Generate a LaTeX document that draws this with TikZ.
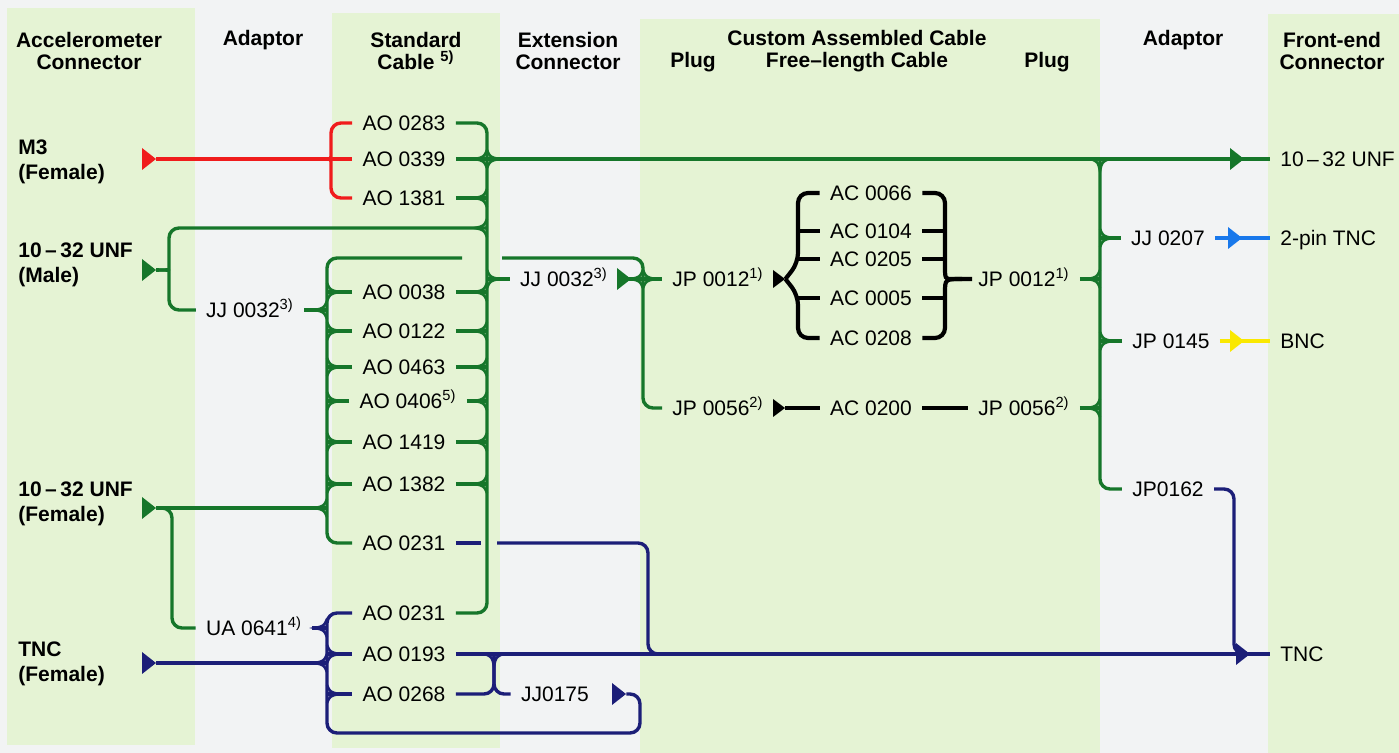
\documentclass[tikz,border=0pt]{standalone}
\usepackage{fontspec}
\setmainfont{Liberation Sans}
\definecolor{bggrey}{RGB}{242,243,244}
\definecolor{colgreen}{RGB}{229,243,212}
\definecolor{wgreen}{RGB}{22,118,42}
\definecolor{wred}{RGB}{240,28,28}
\definecolor{wnavy}{RGB}{28,30,120}
\definecolor{wblue}{RGB}{25,120,235}
\definecolor{wyellow}{RGB}{250,232,0}
\tikzset{wire/.style = {line width = 1.7pt, rounded corners = 5pt}}
\tikzset{bwire/.style = {line width = 2.1pt, rounded corners = 5pt, black}}
\tikzset{lbl/.style = {inner xsep = 5pt, inner ysep = 0pt, text height = 7.6pt, text depth = 0pt,
                       font = \fontsize{10.5}{12}\selectfont}}
\tikzset{head/.style = {align = center, inner sep = 0pt, font = \bfseries\fontsize{10.5}{11}\selectfont}}
\tikzset{conn/.style = {align = left, anchor = west, inner sep = 0pt, font = \bfseries\fontsize{10.5}{12.5}\selectfont}}
\tikzset{plug/.style = {inner sep = 0pt, minimum width = 7pt, minimum height = 11pt,
                        path picture = {\fill (path picture bounding box.south west)
                                          -- (path picture bounding box.east)
                                          -- (path picture bounding box.north west) -- cycle;}}}
\tikzset{small plug/.style = {plug, minimum width = 6pt, minimum height = 9pt}}
\tikzset{fork/.pic = {\draw [line width = 1.3pt] (0, -9) .. controls (-3, -2) .. (-12, 0)
                                                 .. controls (-3, 2) .. (0, 9);}}

\begin{document}
\begin{tikzpicture}[x = 0.5pt, y = -0.5pt]
      \useasboundingbox (0, 0) rectangle (1399, 753);
      % columns
      \fill [bggrey] (0, 0) rectangle (1399, 753);
      \fill [colgreen] (7, 8) rectangle (195, 745);
      \fill [colgreen] (332, 13) rectangle (500, 748);
      \fill [colgreen] (640, 19) rectangle (1100, 753);
      \fill [colgreen] (1268, 14) rectangle (1399, 753);

      % headers
      \node [head] (hacc) at (89, 51) {Accelerometer\\Connector};
      \node [head] (hada) at (263, 40) {Adaptor};
      \node [head] (hstd) at (416, 51) {Standard\\Cable \textsuperscript{5)}};
      \node [head] (hext) at (568, 51) {Extension\\Connector};
      \node [head] (hplugl) at (693, 62) {Plug};
      \node [head] (hcust) at (857, 51) {Custom Assembled Cable\\Free–length Cable};
      \node [head] (hplugr) at (1047, 62) {Plug};
      \node [head] (hadar) at (1183, 40) {Adaptor};
      \node [head] (hfe) at (1332, 51) {Front-end\\Connector};

      % accelerometer connectors
      \node [conn] (cm3) at (18, 162) {M3\\(Female)};
      \node [conn] (cmale) at (18, 265) {10\,–\,32 UNF\\(Male)};
      \node [conn] (cfem) at (18, 504) {10\,–\,32 UNF\\(Female)};
      \node [conn] (ctnc) at (18, 664) {TNC\\(Female)};
      \node [plug, wred] (pm3) at (149, 159) {};
      \node [plug, wgreen] (pmale) at (149, 270) {};
      \node [plug, wgreen] (pfem) at (149, 508) {};
      \node [plug, wnavy] (ptnc) at (149, 663) {};

      % adaptors
      \node [lbl] (jj32a) at (250, 310) {JJ 0032\textsuperscript{3)}};
      \node [lbl] (ua0641) at (254, 628) {UA 0641\textsuperscript{4)}};

      % standard cables
      \node [lbl] (ao0283) at (404, 123) {AO 0283};
      \node [lbl] (ao0339) at (404, 159) {AO 0339};
      \node [lbl] (ao1381) at (404, 198) {AO 1381};
      \node [lbl] (ao0038) at (404, 292) {AO 0038};
      \node [lbl] (ao0122) at (404, 331) {AO 0122};
      \node [lbl] (ao0463) at (404, 367) {AO 0463};
      \node [lbl] (ao0406) at (408, 401) {AO 0406\textsuperscript{5)}};
      \node [lbl] (ao1419) at (404, 442) {AO 1419};
      \node [lbl] (ao1382) at (404, 484) {AO 1382};
      \node [lbl] (ao0231a) at (404, 543) {AO 0231};
      \node [lbl] (ao0231b) at (404, 613) {AO 0231};
      \node [lbl] (ao0193) at (404, 654) {AO 0193};
      \node [lbl] (ao0268) at (404, 694) {AO 0268};

      % extension connectors
      \node [lbl] (jjext) at (564, 279) {JJ 0032\textsuperscript{3)}};
      \node [plug, wgreen] (pext) at (624, 279) {};
      \node [lbl] (jj0175) at (555, 694) {JJ0175};
      \node [plug, wnavy] (pjj0175) at (619, 694) {};

      % custom assembled cable
      \node [lbl] (jp12l) at (718, 279) {JP 0012\textsuperscript{1)}};
      \node [lbl] (jp56l) at (718, 408) {JP 0056\textsuperscript{2)}};
      \node [small plug, black] (pjp12) at (779, 279) {};
      \node [small plug, black] (pjp56) at (779, 408) {};
      \node [lbl] (ac0066) at (871, 193) {AC 0066};
      \node [lbl] (ac0104) at (871, 231) {AC 0104};
      \node [lbl] (ac0205) at (871, 259) {AC 0205};
      \node [lbl] (ac0005) at (871, 298) {AC 0005};
      \node [lbl] (ac0208) at (871, 338) {AC 0208};
      \node [lbl] (ac0200) at (871, 408) {AC 0200};
      \node [lbl] (jp12r) at (1024, 279) {JP 0012\textsuperscript{1)}};
      \node [lbl] (jp56r) at (1024, 408) {JP 0056\textsuperscript{2)}};

      % adaptors and front-end connectors
      \node [lbl] (jj0207) at (1168, 238) {JJ 0207};
      \node [lbl] (jp0145) at (1171, 341) {JP 0145};
      \node [lbl] (jp0162) at (1168, 489) {JP0162};
      \node [lbl, anchor = west] (fe1) at (1270, 159) {10\,–\,32 UNF};
      \node [lbl, anchor = west] (fe2) at (1270, 238) {2-pin TNC};
      \node [lbl, anchor = west] (fe3) at (1270, 341) {BNC};
      \node [lbl, anchor = west] (fe4) at (1270, 654) {TNC};
      \node [plug, wgreen] (pfe1) at (1237, 159) {};
      \node [plug, wblue] (pfe2) at (1235, 238) {};
      \node [plug, wyellow] (pfe3) at (1237, 341) {};
      \node [plug, wnavy] (pfe4) at (1243, 654) {};

      \coordinate (rbus) at (487, 0);
      \coordinate (lbus) at (327, 0);
      \coordinate (nbus) at (327, 0);
      \coordinate (extv) at (643, 0);
      \coordinate (abus) at (1100, 0);
      \coordinate (bl) at (798, 0);
      \coordinate (br) at (945, 0);
      \coordinate (ibar) at (494, 0);
      \coordinate (ndrop) at (648, 0);
      \coordinate (nright) at (1234, 0);
      \coordinate (jumpL) at (462, 258);
      \coordinate (jumpR) at (502, 258);
      \coordinate (njumpL) at (481, 0);
      \coordinate (njumpR) at (497, 0);
      \coordinate (nbot) at (327, 733);

      % red
      \draw [wire, wred] (pm3.east) -- (ao0339.west);
      \draw [wire, wred] (ao0283.west) -| (331, 147) .. controls (331, 159) .. (320, 159);
      \draw [wire, wred] (ao1381.west) -| (331, 171) .. controls (331, 159) .. (320, 159);

      % green
      \draw [wire, wgreen] (ao0283.east) -| (rbus |- ao0231b.east) -- (ao0231b.east);
      \draw [wire, wgreen] (ao0339.east) -- (fe1.west);
      \draw [wire, wgreen] (ao1381.east) -- (ao1381.east -| rbus);
      \draw [wire, wgreen] (ao0038.east) -- (ao0038.east -| rbus);
      \draw [wire, wgreen] (ao0122.east) -- (ao0122.east -| rbus);
      \draw [wire, wgreen] (ao0463.east) -- (ao0463.east -| rbus);
      \draw [wire, wgreen] (ao0406.east) -- (ao0406.east -| rbus);
      \draw [wire, wgreen] (ao1419.east) -- (ao1419.east -| rbus);
      \draw [wire, wgreen] (ao1382.east) -- (ao1382.east -| rbus);
      \draw [wire, wgreen] (pmale.east) -- (159, 270);
      \draw [wire, wgreen] (159, 270) .. controls (169, 270) .. (169, 259) |- (487, 228);
      \draw [wire, wgreen] (159, 270) .. controls (169, 270) .. (169, 281) |- (jj32a.west);
      \draw [wire, wgreen] (jj32a.east) -- (jj32a.east -| lbus);
      \draw [wire, wgreen] (jumpL) -| (lbus |- ao0231a.west) -- (ao0231a.west);
      \draw [wire, wgreen] (ao0038.west) -- (ao0038.west -| lbus);
      \draw [wire, wgreen] (ao0122.west) -- (ao0122.west -| lbus);
      \draw [wire, wgreen] (ao0463.west) -- (ao0463.west -| lbus);
      \draw [wire, wgreen] (ao0406.west) -- (ao0406.west -| lbus);
      \draw [wire, wgreen] (ao1419.west) -- (ao1419.west -| lbus);
      \draw [wire, wgreen] (ao1382.west) -- (ao1382.west -| lbus);
      \draw [wire, wgreen] (pfem.east) -- (pfem.east -| lbus);
      \draw [wire, wgreen] (pfem.east) -| (172, 628) -- (ua0641.west);
      \draw [wire, wgreen] (jjext.west) -- (jjext.west -| rbus);
      \draw [wire, wgreen] (jjext.east) -- (jp12l.west);
      \draw [wire, wgreen] (jumpR) -| (extv |- jp56l.west) -- (jp56l.west);
      \draw [wire, wgreen] (abus |- ao0339.east) |- (jp0162.west);
      \draw [wire, wgreen] (jj0207.west) -- (jj0207.west -| abus);
      \draw [wire, wgreen] (jp0145.west) -- (jp0145.west -| abus);
      \draw [wire, wgreen] (jp12r.east) -- (jp12r.east -| abus);
      \draw [wire, wgreen] (jp56r.east) -- (jp56r.east -| abus);

      % black
      \draw [bwire] (ac0066.west) -| (798, 263) -- (pjp12.east);
      \draw [bwire] (ac0208.west) -| (798, 295) -- (pjp12.east);
      \draw [bwire] (ac0104.west) -- (ac0104.west -| bl);
      \draw [bwire] (ac0205.west) -- (ac0205.west -| bl);
      \draw [bwire] (ac0005.west) -- (ac0005.west -| bl);
      \draw [bwire] (ac0066.east) -| (945, 255) .. controls (945, 279) .. (962, 279) -- (jp12r.west);
      \draw [bwire] (ac0208.east) -| (945, 303) .. controls (945, 279) .. (962, 279);
      \draw [bwire] (ac0104.east) -- (ac0104.east -| br);
      \draw [bwire] (ac0205.east) -- (ac0205.east -| br);
      \draw [bwire] (ac0005.east) -- (ac0005.east -| br);
      \draw [bwire] (pjp56.east) -- (ac0200.west);
      \draw [bwire] (ac0200.east) -- (jp56r.west);

      % blue, yellow
      \draw [wire, wblue] (jj0207.east) -- (fe2.west);
      \draw [wire, wyellow] (jp0145.east) -- (fe3.west);

      % navy
      \draw [wire, wnavy] (ao0231b.west) -| (nbot) -| (640, 694) -- (pjj0175.east);
      \draw [wire, wnavy] (ua0641.east) -- (ua0641.east -| nbus);
      \draw [wire, wnavy] (ptnc.east) -- (ptnc.east -| nbus);
      \draw [wire, wnavy] (ao0193.west) -- (ao0193.west -| nbus);
      \draw [wire, wnavy] (ao0268.west) -- (ao0268.west -| nbus);
      \draw [wire, wnavy] (ao0193.east) -- (fe4.west);
      \draw [wire, wnavy] (ao0231a.east) -- (ao0231a.east -| njumpL);
      \draw [wire, wnavy] (ao0231a.east -| njumpR) -| (ndrop |- ao0193.east) -- +(20, 0);
      \draw [wire, wnavy] (jp0162.east) -| (nright |- fe4.west) -- +(10, 0);
      \draw [wire, wnavy] (ao0268.east) -| (ibar |- ao0193.east);
      \draw [wire, wnavy] (jj0175.west) -| (ibar |- ao0193.east);

      % forks
      \pic [color = wgreen] at (ao0339.east -| rbus) {fork};
      \pic [color = wgreen, rotate = 180] at (ao0339.east -| rbus) {fork};
      \pic [color = wgreen] at (ao1381.east -| rbus) {fork};
      \pic [color = wgreen] at (487, 228) {fork};
      \pic [color = wgreen, rotate = 180] at (jjext.west -| rbus) {fork};
      \pic [color = wgreen] at (ao0038.east -| rbus) {fork};
      \pic [color = wgreen] at (ao0122.east -| rbus) {fork};
      \pic [color = wgreen] at (ao0463.east -| rbus) {fork};
      \pic [color = wgreen] at (ao0406.east -| rbus) {fork};
      \pic [color = wgreen] at (ao1419.east -| rbus) {fork};
      \pic [color = wgreen] at (ao1382.east -| rbus) {fork};
      \pic [color = wgreen] at (jj32a.east -| lbus) {fork};
      \pic [color = wgreen] at (pfem.east -| lbus) {fork};
      \pic [color = wgreen, rotate = 180] at (ao0038.west -| lbus) {fork};
      \pic [color = wgreen, rotate = 180] at (ao0122.west -| lbus) {fork};
      \pic [color = wgreen, rotate = 180] at (ao0463.west -| lbus) {fork};
      \pic [color = wgreen, rotate = 180] at (ao0406.west -| lbus) {fork};
      \pic [color = wgreen, rotate = 180] at (ao1419.west -| lbus) {fork};
      \pic [color = wgreen, rotate = 180] at (ao1382.west -| lbus) {fork};
      \pic [color = wgreen] at (jp12l.west -| extv) {fork};
      \pic [color = wgreen, rotate = 180] at (jp12l.west -| extv) {fork};
      \pic [color = wgreen, rotate = 90] at (abus |- ao0339.east) {fork};
      \pic [color = wgreen, rotate = 180] at (jj0207.west -| abus) {fork};
      \pic [color = wgreen] at (jp12r.east -| abus) {fork};
      \pic [color = wgreen, rotate = 180] at (jp0145.west -| abus) {fork};
      \pic [color = wgreen] at (jp56r.east -| abus) {fork};
      \pic [color = wnavy] at (ua0641.east -| nbus) {fork};
      \pic [color = wnavy, rotate = 180] at (ao0193.west -| nbus) {fork};
      \pic [color = wnavy] at (ptnc.east -| nbus) {fork};
      \pic [color = wnavy, rotate = 180] at (ao0268.west -| nbus) {fork};
      \pic [color = wnavy, rotate = 90] at (ibar |- ao0193.east) {fork};
    \end{tikzpicture}
\end{document}
